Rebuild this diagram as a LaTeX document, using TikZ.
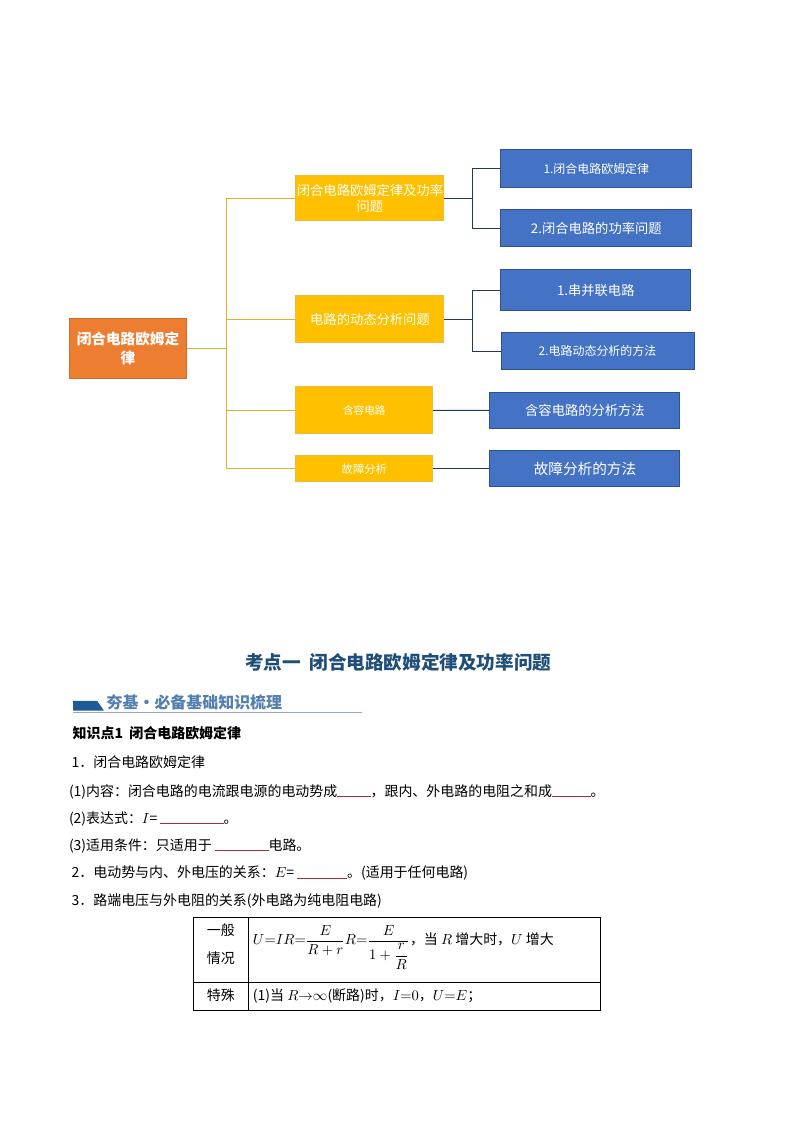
\documentclass[tikz,border=0pt]{standalone}
\usepackage[no-math]{fontspec}
\setmainfont{Noto Sans CJK SC}
\usepackage{amsmath}
\usepackage{tikz}
\pgfdeclarelayer{bg}
\pgfsetlayers{bg,main}
\definecolor{rootorange}{RGB}{237,125,49}
\definecolor{rootedge}{RGB}{205,108,45}
\definecolor{topicyellow}{RGB}{255,192,0}
\definecolor{topicedge}{RGB}{240,186,60}
\definecolor{itemblue}{RGB}{68,114,196}
\definecolor{itemedge}{RGB}{47,82,143}
\definecolor{linkgold}{RGB}{228,174,45}
\definecolor{linknavy}{RGB}{31,56,100}
\definecolor{titleblue}{RGB}{31,78,121}
\definecolor{barblue}{RGB}{31,90,150}
\definecolor{hdrblue}{RGB}{84,128,176}
\definecolor{hdrline}{RGB}{150,170,196}
\definecolor{blankred}{RGB}{150,52,52}
\newcommand\fillin[1]{\textcolor{blankred}{\rule[-0.8pt]{#1}{0.6pt}}}
\tikzset{
    every node/.style={inner sep=0mm, outer sep=0mm}
}
\tikzset{
    rootbox/.style={rectangle, draw=rootedge, fill=rootorange, text=white, align=center, line width=0.75pt, font=\bfseries\fontsize{11}{14.3}\selectfont},
    topicbox/.style={rectangle, draw=topicedge, fill=topicyellow, text=white, align=center, line width=0.75pt},
    itembox/.style={rectangle, draw=itemedge, fill=itemblue, text=white, align=center, line width=0.75pt},
    ylink/.style={draw=linkgold, line width=0.75pt},
    blink/.style={draw=linknavy, line width=0.75pt},
    elbow/.style={to path={|- (\tikztotarget)}},
    bodyline/.style={anchor=base west, font=\fontsize{10.5}{12.5}\selectfont},
    cell/.style={anchor=base, font=\fontsize{10.5}{12.5}\selectfont}
}

\begin{document}
\begin{tikzpicture}
        \useasboundingbox (0cm, 0cm) rectangle (21.000000cm, -29.700000cm);
        \node (root) [rootbox, minimum width=3.105cm, minimum height=1.587cm] at (3.385000cm, -9.212000cm) {闭合电路欧姆定\\律};
        \node (ya) [topicbox, minimum width=3.914cm, minimum height=1.182cm, font=\fontsize{10}{12.5}\selectfont] at (9.785000cm, -5.244000cm) {闭合电路欧姆定律及功率\\问题};
        \node (yb) [topicbox, minimum width=3.914cm, minimum height=1.235cm, font=\fontsize{10}{12}\selectfont] at (9.785000cm, -8.445000cm) {电路的动态分析问题};
        \node (yc) [topicbox, minimum width=3.615cm, minimum height=1.243cm, font=\fontsize{8}{10}\selectfont] at (9.635000cm, -10.856000cm) {含容电路};
        \node (yd) [topicbox, minimum width=3.615cm, minimum height=0.680cm, font=\fontsize{8.5}{10}\selectfont] at (9.635000cm, -12.398000cm) {故障分析};
        \node (b1) [itembox, minimum width=5.043cm, minimum height=0.997cm, font=\fontsize{9}{11}\selectfont] at (15.771000cm, -4.464000cm) {1.闭合电路欧姆定律};
        \node (b2) [itembox, minimum width=5.043cm, minimum height=0.971cm, font=\fontsize{10}{12}\selectfont] at (15.771000cm, -6.038000cm) {2.闭合电路的功率问题};
        \node (b3) [itembox, minimum width=5.017cm, minimum height=1.076cm, font=\fontsize{10}{12}\selectfont] at (15.757000cm, -7.678000cm) {1.串并联电路};
        \node (b4) [itembox, minimum width=5.104cm, minimum height=0.986cm, font=\fontsize{9}{11}\selectfont] at (15.802000cm, -9.291000cm) {2.电路动态分析的方法};
        \node (b5) [itembox, minimum width=5.025cm, minimum height=0.952cm, font=\fontsize{10}{12}\selectfont] at (15.471000cm, -10.851000cm) {含容电路的分析方法};
        \node (b6) [itembox, minimum width=5.025cm, minimum height=0.944cm, font=\fontsize{11}{13}\selectfont] at (15.471000cm, -12.398000cm) {故障分析的方法};
        \coordinate (trunk) at (6.003000cm, -9.212000cm);
        \coordinate (ja) at (12.491000cm, -5.244000cm);
        \coordinate (jb) at (12.491000cm, -8.445000cm);
        \begin{pgfonlayer}{bg}
                \draw (root) edge [ylink] (trunk);
                \draw (trunk) edge [ylink, elbow] (ya);
                \draw (trunk) edge [ylink, elbow] (yb);
                \draw (trunk) edge [ylink, elbow] (yc);
                \draw (trunk) edge [ylink, elbow] (yd);
                \draw (ya) edge [blink] (ja);
                \draw (ja) edge [blink, elbow] (b1);
                \draw (ja) edge [blink, elbow] (b2);
                \draw (yb) edge [blink] (jb);
                \draw (jb) edge [blink, elbow] (b3);
                \draw (jb) edge [blink, elbow] (b4);
                \draw (yc) edge [blink] (b5);
                \draw (yd) edge [blink] (b6);
        \end{pgfonlayer}
        \node (title) [anchor=base, text=titleblue, font=\bfseries\fontsize{14}{16}\selectfont] at (10.534000cm, -17.712000cm) {考点一\ \ 闭合电路欧姆定律及功率问题};
        \fill [barblue] (1.931000cm, -18.539000cm) -- (2.573000cm, -18.539000cm) -- (2.750000cm, -18.796000cm) -- (1.931000cm, -18.796000cm) -- cycle;
        \node (hdr) [anchor=base west, text=hdrblue, font=\bfseries\fontsize{12}{14}\selectfont] at (2.822000cm, -18.743000cm) {夯基·必备基础知识梳理};
        \draw [hdrline, line width=0.75pt] (1.931000cm, -18.849000cm) -- (9.566000cm, -18.849000cm);
        \node (k1) [bodyline, font=\bfseries\fontsize{10.5}{12.5}\selectfont] at (1.923000cm, -19.526000cm) {知识点1\ \ 闭合电路欧姆定律};
        \node (l1) [bodyline] at (1.896000cm, -20.311000cm) {1．闭合电路欧姆定律};
        \node (l2) [bodyline] at (1.825000cm, -21.052000cm) {(1)内容：闭合电路的电流跟电源的电动势成\fillin{0.88cm}，跟内、外电路的电阻之和成\fillin{1.02cm}。};
        \node (l3) [bodyline] at (1.825000cm, -21.766000cm) {(2)表达式：$I$=\ \fillin{1.67cm}。};
        \node (l4) [bodyline] at (1.825000cm, -22.480000cm) {(3)适用条件：只适用于\ \fillin{1.42cm}电路。};
        \node (l5) [bodyline] at (1.896000cm, -23.202000cm) {2．电动势与内、外电压的关系：$E$=\ \fillin{1.32cm}。(适用于任何电路)};
        \node (l6) [bodyline] at (1.896000cm, -23.953000cm) {3．路端电压与外电阻的关系(外电路为纯电阻电路)};
        \draw [line width=0.6pt] (5.112000cm, -24.271000cm) rectangle (15.887000cm, -26.711000cm);
        \draw [line width=0.6pt] (6.567000cm, -24.271000cm) -- (6.567000cm, -26.711000cm);
        \draw [line width=0.6pt] (5.112000cm, -25.979000cm) -- (15.887000cm, -25.979000cm);
        \node (c1) [cell] at (5.839000cm, -24.728000cm) {一般};
        \node (c2) [cell] at (5.839000cm, -25.469000cm) {情况};
        \node (c3) [cell] at (5.839000cm, -26.447000cm) {特殊};
        \node (f1) [bodyline] at (6.691000cm, -24.992000cm) {$U{=}IR{=}\dfrac{E}{R+r}R{=}\dfrac{E}{1+\dfrac{r}{R}}$，当 $R$ 增大时，$U$ 增大};
        \node (f2) [bodyline] at (6.691000cm, -26.447000cm) {(1)当 $R{\to}\infty$(断路)时，$I{=}0$，$U{=}E$；};
\end{tikzpicture}
\end{document}
